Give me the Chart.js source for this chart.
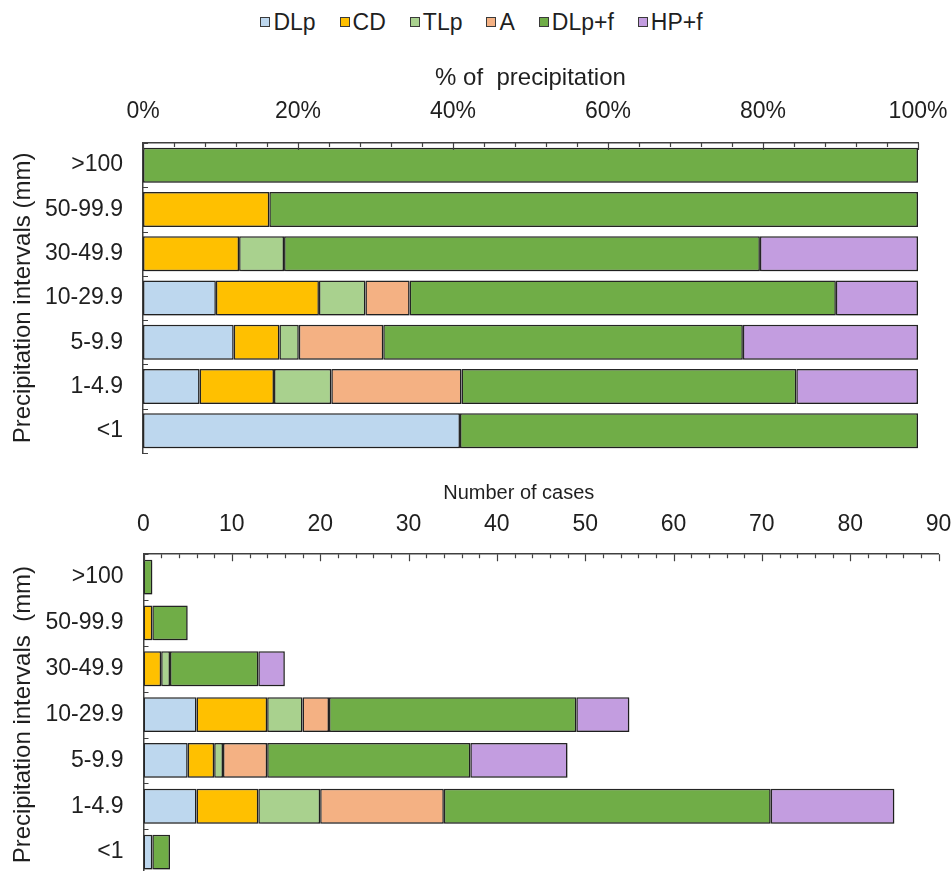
<!DOCTYPE html>
<html>
<head>
<meta charset="utf-8">
<script src="https://cdn.jsdelivr.net/npm/chart.js@4.4.0/dist/chart.umd.min.js"></script>
<style>
html,body{margin:0;padding:0;width:951px;height:871px;overflow:hidden;background:#fff;font-family:"Liberation Sans",Arial,sans-serif;}
#legend{position:absolute;left:6px;top:8px;width:951px;display:flex;justify-content:center;font-size:23px;line-height:28px;color:#1f1f1f;}
#legend .item{display:flex;align-items:center;margin:0 12px;}
#legend .box{width:8px;height:8px;border:1.5px solid #3a3a3a;margin-right:3px;}
#w1{position:absolute;left:0;top:0;width:951px;height:460px;}
#w2{position:absolute;left:0;top:460px;width:951px;height:420px;}
</style>
</head>
<body>
<div id="legend"></div>
<div id="w1"><canvas id="c1"></canvas></div>
<div id="w2"><canvas id="c2"></canvas></div>
<script>
// ---- data ----
const categories = ['>100', '50-99.9', '30-49.9', '10-29.9', '5-9.9', '1-4.9', '<1'];
const seriesNames = ['DLp', 'CD', 'TLp', 'A', 'DLp+f', 'HP+f'];
const seriesColors = ['#BDD7EE', '#FFC000', '#A9D18E', '#F4B183', '#70AD47', '#C39DE0'];

// % of precipitation
const pctDLp  = [null, null, null, 9.4, 11.7, 7.3, 40.9];
const pctCD   = [null, 16.3, 12.4, 13.3, 5.9, 9.6, null];
const pctTLp  = [null, null, 5.8, 6.0, 2.5, 7.4, null];
const pctA    = [null, null, null, 5.7, 10.9, 16.8, null];
const pctDLpf = [100, 83.7, 61.4, 55.0, 46.4, 43.2, 59.1];
const pctHPf  = [null, null, 20.4, 10.6, 22.6, 15.7, null];

// Number of cases
const nDLp  = [null, null, null, 6, 5, 6, 1];
const nCD   = [null, 1, 2, 8, 3, 7, null];
const nTLp  = [null, null, 1, 4, 1, 7, null];
const nA    = [null, null, null, 3, 5, 14, null];
const nDLpf = [1, 4, 10, 28, 23, 37, 2];
const nHPf  = [null, null, 3, 6, 11, 14, null];

const pctTicksMajor = 20, pctTicksMinor = 4;
const nTicksMajor = 10, nTicksMinor = 2;

// ---- legend (HTML) ----
const lg = document.getElementById('legend');
seriesNames.forEach((n, i) => {
  const it = document.createElement('div'); it.className = 'item';
  const b = document.createElement('span'); b.className = 'box'; b.style.background = seriesColors[i];
  const t = document.createElement('span'); t.textContent = n;
  it.appendChild(b); it.appendChild(t); lg.appendChild(it);
});

const FAM = '"Liberation Sans", Arial, sans-serif';
const TICKFONT = {family: FAM, size: 23};
const TXT = '#1f1f1f';
const AXIS = '#404040';

function makeDatasets(arrs) {
  return arrs.map((d, i) => ({
    label: seriesNames[i], data: d, backgroundColor: seriesColors[i],
    borderColor: '#262626', borderWidth: 1.5, borderSkipped: false
  }));
}

const innerTicks = {
  id: 'innerTicks',
  beforeDatasetsDraw(chart) {
    const ctx = chart.ctx;
    ctx.save();
    ctx.shadowColor = 'rgba(0,0,0,0.28)';
    ctx.shadowBlur = 2; ctx.shadowOffsetX = 1; ctx.shadowOffsetY = 1;
  },
  afterDatasetsDraw(chart) {
    const ctx = chart.ctx;
    ctx.restore();
    const xs = chart.scales.x, ys = chart.scales.y, a = chart.chartArea;
    const major = chart.options.plugins.innerTicks.major;
    ctx.save();
    ctx.strokeStyle = AXIS; ctx.lineWidth = 1.2;
    ctx.beginPath();
    xs.ticks.forEach(t => {
      const px = Math.round(xs.getPixelForValue(t.value)) + 0.5;
      const len = (Math.abs(t.value % major) < 1e-6) ? 7 : 4;
      ctx.moveTo(px, a.top); ctx.lineTo(px, a.top + len);
    });
    for (let i = 0; i <= categories.length; i++) {
      const py = Math.round(ys.getPixelForValue(i - 0.5)) + 0.5;
      ctx.moveTo(a.left, py); ctx.lineTo(a.left + 5, py);
    }
    ctx.stroke();
    ctx.restore();
  }
};

function buildChart(canvas, arrs, cfg) {
  return new Chart(canvas, {
    type: 'bar',
    data: {labels: categories, datasets: makeDatasets(arrs)},
    plugins: [innerTicks],
    options: {
      responsive: true, maintainAspectRatio: false, animation: false,
      indexAxis: 'y',
      layout: {padding: cfg.pad},
      datasets: {bar: {categoryPercentage: 1, barPercentage: cfg.barPct}},
      plugins: {legend: {display: false}, tooltip: {enabled: false}, innerTicks: {major: cfg.major}},
      scales: {
        x: {
          position: 'top', stacked: true, min: 0, max: cfg.max,
          ticks: {stepSize: cfg.minor, autoSkip: false, maxRotation: 0, padding: cfg.tickPad,
                  color: TXT, font: TICKFONT, callback: cfg.fmt},
          grid: {display: false, drawTicks: false},
          border: {display: true, color: AXIS, width: 1.5},
          title: {display: true, text: cfg.xTitle, color: TXT, font: {family: FAM, size: cfg.xTitleSize},
                  padding: {top: 0, bottom: cfg.titlePad}},
          afterFit: s => { s.paddingLeft = 0; s.paddingRight = 0; }
        },
        y: {
          stacked: true,
          ticks: {padding: 20, color: TXT, font: TICKFONT},
          grid: {display: false, drawTicks: false},
          border: {display: true, color: AXIS, width: 1.5},
          title: {display: true, text: cfg.yTitle, color: TXT, font: {family: FAM, size: 24},
                  padding: {top: 8.6, bottom: 0}},
          afterFit: s => { s.width = cfg.left; s.paddingTop = 0; s.paddingBottom = 0; }
        }
      }
    }
  });
}

buildChart(document.getElementById('c1'),
  [pctDLp, pctCD, pctTLp, pctA, pctDLpf, pctHPf],
  {pad: {top: 63.6, left: 0, right: 33, bottom: 7}, barPct: 0.79, max: 100, minor: pctTicksMinor, major: pctTicksMajor,
   tickPad: 17.2, titlePad: -11.4, left: 143, xTitleSize: 24,
   fmt: v => (v % pctTicksMajor === 0 ? v + '%' : ''),
   xTitle: '% of  precipitation', yTitle: 'Precipitation intervals (mm)'});

buildChart(document.getElementById('c2'),
  [nDLp, nCD, nTLp, nA, nDLpf, nHPf],
  {pad: {top: 21.6, left: 0, right: 12.5, bottom: 5}, barPct: 0.76, max: 90, minor: nTicksMinor, major: nTicksMajor,
   tickPad: 16.2, titlePad: -11.4, left: 143.5, xTitleSize: 20,
   fmt: v => (v % nTicksMajor === 0 ? String(v) : ''),
   xTitle: 'Number of cases\u00A0\u00A0\u00A0\u00A0\u00A0\u00A0\u00A0\u00A0', yTitle: 'Precipitation intervals  (mm)'});
</script>
</body>
</html>
